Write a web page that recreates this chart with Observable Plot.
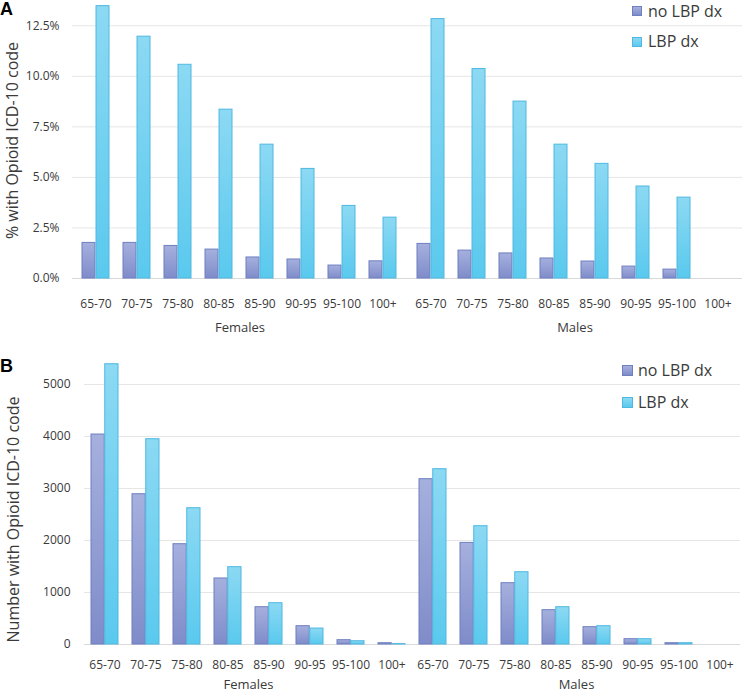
<!DOCTYPE html>
<html>
<head>
<meta charset="utf-8">
<script src="https://cdn.jsdelivr.net/npm/d3@7"></script>
<script src="https://cdn.jsdelivr.net/npm/@observablehq/plot@0.6"></script>
<style>
  html, body { margin: 0; padding: 0; background: #ffffff; }
  body { width: 742px; font-family: "Open Sans", sans-serif; color: #3a3a3a; }
  .panel { position: relative; width: 742px; }
  .tag { position: absolute; left: 0; font-family: "Liberation Sans", Arial, sans-serif; font-weight: bold; font-size: 18px; line-height: 1; color: #000; }
  .lg { position: absolute; font-size: 16px; line-height: 1; color: #3a3a3a; white-space: nowrap; }
  .sw { position: absolute; box-sizing: border-box; }
  .sw.no { background: linear-gradient(#a6b0de, #7f8cc9); border: 1px solid #6f7fc0; }
  .sw.yes { background: linear-gradient(#8cd9f3, #5ac9ee); border: 1px solid #4fb8e0; }
</style>
</head>
<body>
<div class="panel" id="panelA" style="height:340px">
  <div class="tag" style="top:0px">A</div>
</div>
<div class="panel" id="panelB" style="height:353px">
  <div class="tag" style="top:16.5px">B</div>
</div>
<script>
// ---- data ----
const ages = ["65-70", "70-75", "75-80", "80-85", "85-90", "90-95", "95-100", "100+"];
const sexes = ["Females", "Males"];
const seriesNames = ["no LBP dx", "LBP dx"];

// Panel A: % with Opioid ICD-10 code
const pctNoLBP_F = [1.76, 1.76, 1.61, 1.43, 1.04, 0.94, 0.64, 0.85];
const pctLBP_F   = [13.47, 11.96, 10.57, 8.35, 6.62, 5.42, 3.59, 3.01];
const pctNoLBP_M = [1.71, 1.38, 1.24, 0.99, 0.84, 0.59, 0.44, null];
const pctLBP_M   = [12.83, 10.36, 8.75, 6.62, 5.67, 4.55, 4.00, null];

// Panel B: Number with Opioid ICD-10 code
const numNoLBP_F = [4038, 2890, 1929, 1270, 717, 352, 83, 25];
const numLBP_F   = [5390, 3948, 2621, 1487, 794, 307, 63, 8];
const numNoLBP_M = [3179, 1954, 1179, 660, 333, 102, 25, null];
const numLBP_M   = [3371, 2275, 1390, 717, 352, 102, 25, null];

const pctTicks = [0, 2.5, 5, 7.5, 10, 12.5];
const numTicks = [0, 1000, 2000, 3000, 4000, 5000];

function rows(noF, yesF, noM, yesM) {
  const out = [];
  const src = {Females: [noF, yesF], Males: [noM, yesM]};
  for (const sex of sexes) {
    ages.forEach((age, i) => {
      out.push({sex, age, series: seriesNames[0], value: src[sex][0][i]});
      out.push({sex, age, series: seriesNames[1], value: src[sex][1][i]});
    });
  }
  return out;
}

const SVGNS = "http://www.w3.org/2000/svg";
function addGradients(svg, prefix) {
  const defs = document.createElementNS(SVGNS, "defs");
  const specs = [[prefix + "no", "#a6b0de", "#7f8cc9"], [prefix + "yes", "#8cd9f3", "#5ac9ee"]];
  for (const [id, c0, c1] of specs) {
    const g = document.createElementNS(SVGNS, "linearGradient");
    g.setAttribute("id", id);
    g.setAttribute("x1", "0"); g.setAttribute("y1", "0");
    g.setAttribute("x2", "0"); g.setAttribute("y2", "1");
    for (const [o, c] of [["0", c0], ["1", c1]]) {
      const s = document.createElementNS(SVGNS, "stop");
      s.setAttribute("offset", o);
      s.setAttribute("stop-color", c);
      g.appendChild(s);
    }
    defs.appendChild(g);
  }
  svg.insertBefore(defs, svg.firstChild);
}

function panel(cfg) {
  const data = rows(...cfg.arrays);
  const pi = 0.33, po = pi / 2;
  const facetW = (742 - cfg.ml - cfg.mr) / 2;
  const step = facetW / (ages.length - pi + 2 * po);
  const inset = step * (1 - pi) / 2;
  const svg = Plot.plot({
    width: 742,
    height: cfg.height,
    marginLeft: cfg.ml,
    marginRight: cfg.mr,
    marginTop: cfg.mt,
    marginBottom: cfg.mb,
    style: {fontFamily: "'Open Sans', sans-serif", fontSize: "12px", color: "#3a3a3a", background: "transparent", overflow: "visible"},
    fx: {domain: sexes, padding: 0, axis: null, label: null},
    x: {domain: ages, paddingInner: pi, paddingOuter: po, axis: null, label: null},
    y: {domain: cfg.ydomain, axis: null, label: null},
    marks: [
      Plot.gridY({ticks: cfg.ticks, stroke: "#e6e6e6", strokeOpacity: 1}),
      Plot.ruleY([0], {stroke: "#d9d9d9"}),
      Plot.barY(data.filter(d => d.series === seriesNames[0]), {
        fx: "sex", x: "age", y: "value",
        fill: `url(#${cfg.id}no)`, stroke: "#6f7fc0", strokeWidth: 1,
        insetRight: inset
      }),
      Plot.barY(data.filter(d => d.series === seriesNames[1]), {
        fx: "sex", x: "age", y: "value",
        fill: `url(#${cfg.id}yes)`, stroke: "#4fb8e0", strokeWidth: 1,
        insetLeft: inset
      }),
      Plot.axisY({ticks: cfg.ticks, tickFormat: cfg.fmt, tickSize: 0, tickPadding: cfg.ytp, label: null, fontSize: 12}),
      Plot.axisX({tickSize: 0, tickPadding: cfg.xtp, label: null, fontSize: 12}),
      Plot.axisFx({anchor: "bottom", tickSize: 0, tickPadding: cfg.fxtp, label: null, fontSize: 13}),
      Plot.text([{sex: "Females", t: cfg.ylabel}], {
        fx: "sex", text: "t", frameAnchor: "left", rotate: -90, textAnchor: "middle", lineAnchor: "middle",
        dx: 12.5 - cfg.ml, dy: cfg.labelDy, fontSize: 16, fill: "#3a3a3a"
      })
    ]
  });
  addGradients(svg, cfg.id);
  svg.style.position = "absolute";
  svg.style.left = "0px";
  svg.style.top = "0px";
  return svg;
}

function legend(container, items) {
  for (const it of items) {
    const sw = document.createElement("div");
    sw.className = "sw " + it.cls;
    sw.style.left = it.sx + "px"; sw.style.top = it.sy + "px";
    sw.style.width = it.size + "px"; sw.style.height = it.size + "px";
    container.appendChild(sw);
    const t = document.createElement("div");
    t.className = "lg";
    t.textContent = it.label;
    t.style.left = it.tx + "px"; t.style.top = it.ty + "px";
    container.appendChild(t);
  }
}

const pA = document.getElementById("panelA");
pA.insertBefore(panel({
  id: "gA", arrays: [pctNoLBP_F, pctLBP_F, pctNoLBP_M, pctLBP_M],
  height: 340, ml: 72, mr: 0, mt: 2, mb: 62,
  ydomain: [0, 13.65], ticks: pctTicks, fmt: d => d.toFixed(1) + "%",
  ytp: 13, xtp: 21, fxtp: 44,
  ylabel: "% with Opioid ICD-10 code", labelDy: 0
}), pA.firstChild);
legend(pA, [
  {cls: "no", label: seriesNames[0], sx: 632, sy: 6, size: 10, tx: 648, ty: 2.5},
  {cls: "yes", label: seriesNames[1], sx: 632, sy: 37, size: 10, tx: 648, ty: 33}
]);

const pB = document.getElementById("panelB");
pB.insertBefore(panel({
  id: "gB", arrays: [numNoLBP_F, numLBP_F, numNoLBP_M, numLBP_M],
  height: 353, ml: 83, mr: 2, mt: 10, mb: 49,
  ydomain: [0, 5654], ticks: numTicks, fmt: d => String(d),
  ytp: 14, xtp: 15.5, fxtp: 35,
  ylabel: "Number with Opioid ICD-10 code", labelDy: 22
}), pB.firstChild);
legend(pB, [
  {cls: "no", label: seriesNames[0], sx: 622, sy: 25, size: 11, tx: 638, ty: 22},
  {cls: "yes", label: seriesNames[1], sx: 622, sy: 56.7, size: 11, tx: 638, ty: 53.5}
]);
</script>
</body>
</html>
